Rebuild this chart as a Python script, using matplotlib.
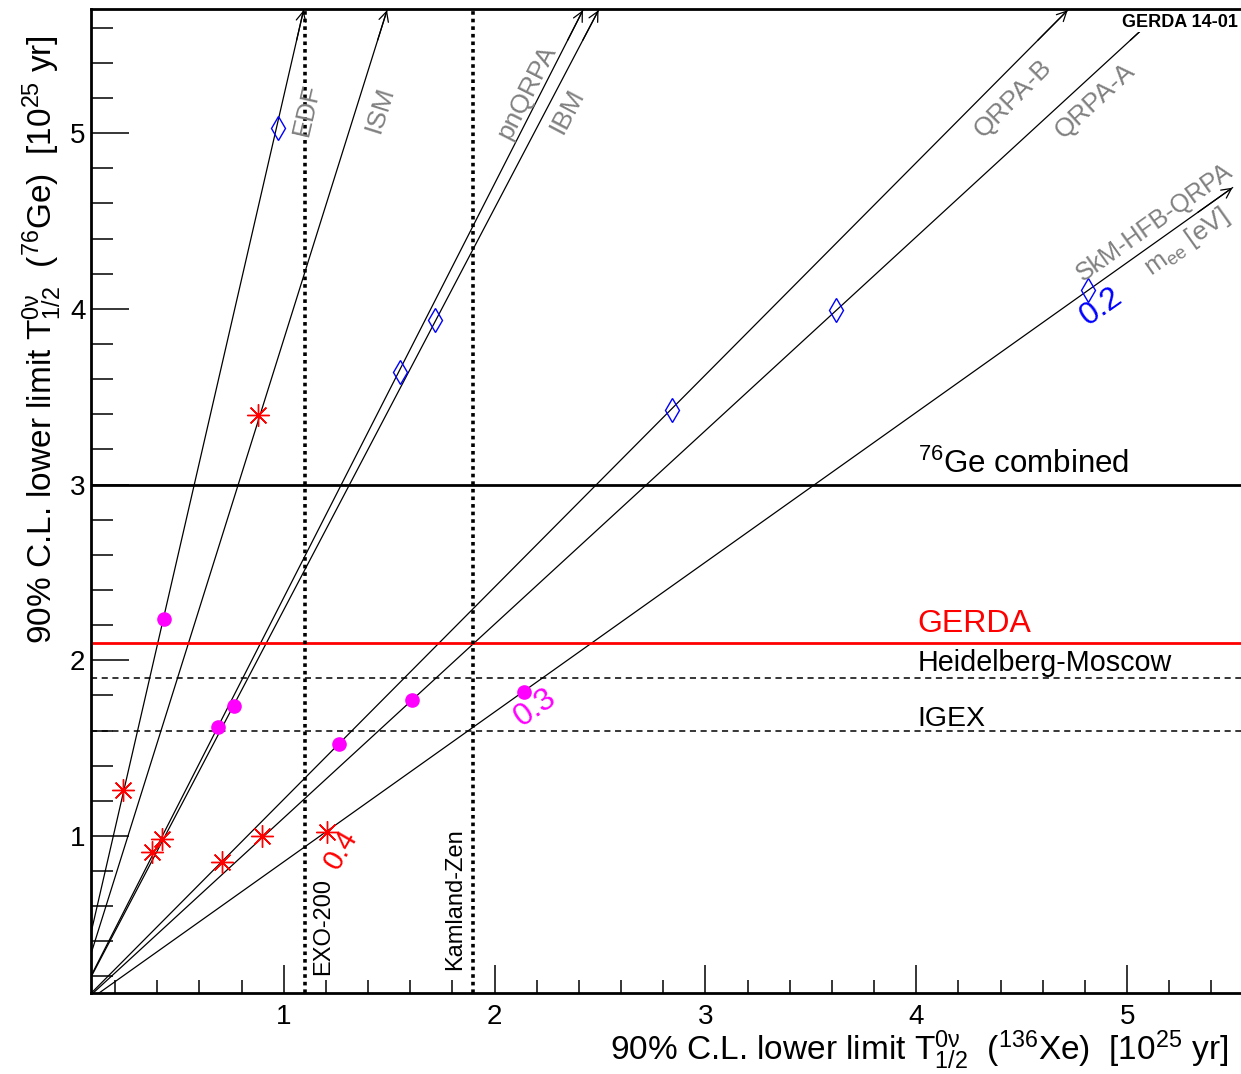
import matplotlib
matplotlib.use("Agg")
from matplotlib import pyplot as plt
from matplotlib.patches import FancyArrowPatch, Rectangle
import numpy as np

# nuclear matrix element models: rays from the origin, arrow at the end
models = ["EDF", "ISM", "pnQRPA", "IBM", "QRPA-B", "QRPA-A", "SkM-HFB-QRPA"]
end_x = [1.094, 1.49, 2.419, 2.493, 4.718, 5.17, 5.50]
end_y = [5.70, 5.70, 5.70, 5.70, 5.70, 5.70, 4.69]

# points for m_ee = 0.2, 0.3, 0.4 eV
m02_x = [0.974, 1.553, 1.719, 2.843, 3.621, 4.816]
m02_y = [5.03, 3.641, 3.937, 3.424, 3.994, 4.109]
m03_x = [0.430, 0.688, 0.762, 1.260, 1.608, 2.138]
m03_y = [2.233, 1.622, 1.742, 1.524, 1.774, 1.818]
m04_x = [0.240, 0.879, 0.375, 0.422, 0.707, 0.899, 1.205]
m04_y = [1.262, 3.395, 0.911, 0.981, 0.854, 1.000, 1.024]

# experimental limits
ge_limits = {"76Ge combined": 3.0, "GERDA": 2.1, "Heidelberg-Moscow": 1.9, "IGEX": 1.6}
xe_limits = {"EXO-200": 1.1, "Kamland-Zen": 1.9}

plt.rcParams['font.family'] = ['Liberation Sans', 'DejaVu Sans']
plt.rcParams['mathtext.fontset'] = 'custom'
plt.rcParams['mathtext.rm'] = 'Liberation Sans'
plt.rcParams['mathtext.it'] = 'Liberation Sans:italic'
plt.rcParams['mathtext.default'] = 'regular'

W, H = 1241, 1074
fig = plt.figure(figsize=(W / 100, H / 100), dpi=100)
ax = fig.add_axes([91 / W, (H - 993) / H, (W - 91) / W, (993 - 9) / H])
xmin, xmax, ymin, ymax = 0.086, 5.54, 0.106, 5.707
ax.set_xlim(xmin, xmax)
ax.set_ylim(ymin, ymax)

# model rays
for xe, ye in zip(end_x, end_y):
    ax.plot([0, xe], [0, ye], color='black', lw=0.9, zorder=2)
    f = 0.97
    arr = FancyArrowPatch((xe * f, ye * f), (xe, ye), arrowstyle='->,head_length=0.7,head_width=0.35',
                          mutation_scale=10, lw=0.9, color='black', shrinkA=0, shrinkB=0,
                          clip_on=False, zorder=2)
    ax.add_patch(arr)

# horizontal Ge limits
ax.axhline(ge_limits["76Ge combined"], color='black', lw=2.0, zorder=3)
ax.axhline(ge_limits["GERDA"], color='red', lw=2.0, zorder=3)
ax.axhline(ge_limits["Heidelberg-Moscow"], color='black', lw=1.1, ls=(0, (4, 3)), zorder=3)
ax.axhline(ge_limits["IGEX"], color='black', lw=1.1, ls=(0, (4, 3)), zorder=3)

# vertical Xe limits
for v in xe_limits.values():
    ax.axvline(v, color='black', lw=2.6, ls=(0, (1, 1.1)), zorder=3)

# points
ax.plot(m02_x, m02_y, ls='none', marker='d', ms=12, mfc='none', mec='blue', mew=1.0, zorder=4)
ax.plot(m03_x, m03_y, ls='none', marker='o', ms=9.5, mfc='magenta', mec='magenta', zorder=4)
ax.plot(m04_x, m04_y, ls='none', marker=(8, 2, 0), ms=16, mec='red', mew=1.0, zorder=4)

# labels of limits
ax.text(4.006, 3.065, r"$^{76}$Ge combined", fontsize=22.5, color='black', va='baseline')
ax.text(4.006, 2.163, "GERDA", fontsize=23, color='red', va='baseline')
ax.text(4.006, 1.939, "Heidelberg-Moscow", fontsize=20.7, color='black', va='baseline')
ax.text(4.006, 1.628, "IGEX", fontsize=20.5, color='black', va='baseline')
ax.text(1.185, 0.209, "EXO-200", fontsize=17, rotation=90, ha='center', va='bottom')
ax.text(1.814, 0.237, "Kamland-Zen", fontsize=17, rotation=90, ha='center', va='bottom')

# model labels along the rays
sx = ax.get_position().width * W / (xmax - xmin)
sy = ax.get_position().height * H / (ymax - ymin)


def angle(xe, ye):
    return np.degrees(np.arctan2(ye * sy, xe * sx))


label_pos = [(1.111, 5.132), (1.458, 5.132), (2.155, 5.235), (2.345, 5.127),
             (4.46, 5.195), (4.85, 5.184), (5.13, 4.49)]
for name, (lx, ly), xe, ye in zip(models, label_pos, end_x, end_y):
    ax.text(lx, ly, name, fontsize=19 if name != models[-1] else 18, color='gray',
            rotation=angle(xe, ye), ha='center', va='center', rotation_mode='anchor', zorder=5)
ax.text(5.281, 4.381, r"m$_{ee}$ [eV]", fontsize=19, color='gray', rotation=angle(end_x[6], end_y[6]),
        ha='center', va='center', rotation_mode='anchor', zorder=5)

ax.text(4.878, 4.011, "0.2", fontsize=23, color='blue', rotation=35,
        ha='center', va='center', rotation_mode='anchor', zorder=5)
ax.text(2.193, 1.728, "0.3", fontsize=23, color='magenta', rotation=35,
        ha='center', va='center', rotation_mode='anchor', zorder=5)
ax.text(1.273, 0.920, "0.4", fontsize=21, color='red', rotation=60,
        ha='center', va='center', rotation_mode='anchor', zorder=5)

# white label box in the top right corner, hides the end of QRPA-A
ax.add_patch(Rectangle((4.92, 5.577), xmax - 4.92, ymax - 5.577, fc='white', ec='none', zorder=6))
ax.text(5.523, 5.633, "GERDA 14-01", fontsize=13, fontweight='bold', ha='right', va='center', zorder=7)

# axes styling
for s in ['left', 'bottom', 'top']:
    ax.spines[s].set_linewidth(2.0)
    ax.spines[s].set_zorder(8)
ax.spines['right'].set_visible(False)
ax.set_xticks([1, 2, 3, 4, 5])
ax.set_yticks([1, 2, 3, 4, 5])
ax.set_xticks(np.arange(0.2, 5.6, 0.2), minor=True)
ax.set_yticks(np.arange(0.2, 5.7, 0.2), minor=True)
ax.tick_params(axis='x', which='major', direction='in', length=20, width=1.1, labelsize=20, pad=8)
ax.tick_params(axis='x', which='minor', direction='in', length=9.5, width=1.1)
ax.tick_params(axis='y', which='major', direction='in', length=27, width=1.1, labelsize=20, pad=4)
ax.tick_params(axis='y', which='minor', direction='in', length=16, width=1.1)
ax.tick_params(top=False, right=False, which='both')

fig.text(1228 / W, 1 - 1060 / H,
         r"90% C.L. lower limit $\mathrm{T}^{0\nu}_{1/2}$  ($^{136}$Xe)  [10$^{25}$ yr]",
         fontsize=24, ha='right', va='baseline')
fig.text(42 / W, 1 - 35 / H,
         r"90% C.L. lower limit $\mathrm{T}^{0\nu}_{1/2}$  ($^{76}$Ge)  [10$^{25}$ yr]",
         fontsize=24, ha='center', va='top', rotation=90)

fig.savefig("out.png", dpi=100)
